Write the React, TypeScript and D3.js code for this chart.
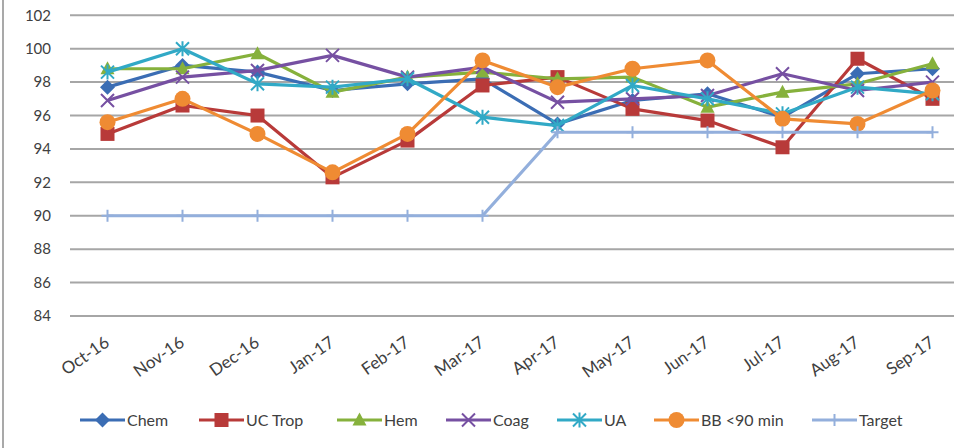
import React, { useEffect, useRef } from "react";
import * as d3 from "d3";

// Monthly compliance percentages by test type
const months = ["Oct-16", "Nov-16", "Dec-16", "Jan-17", "Feb-17", "Mar-17", "Apr-17", "May-17", "Jun-17", "Jul-17", "Aug-17", "Sep-17"];
const chem = [97.7, 99.0, 98.6, 97.5, 97.9, 98.2, 95.5, 96.9, 97.3, 95.9, 98.5, 98.8];
const ucTrop = [94.9, 96.6, 96.0, 92.3, 94.5, 97.8, 98.3, 96.4, 95.7, 94.1, 99.4, 97.0];
const hem = [98.8, 98.8, 99.7, 97.4, 98.3, 98.6, 98.2, 98.3, 96.5, 97.4, 97.9, 99.1];
const coag = [96.9, 98.3, 98.7, 99.6, 98.3, 98.9, 96.8, 97.0, 97.2, 98.5, 97.5, 98.0];
const ua = [98.6, 100.0, 97.9, 97.7, 98.2, 95.9, 95.4, 97.8, 97.0, 96.1, 97.7, 97.3];
const bb90 = [95.6, 97.0, 94.9, 92.6, 94.9, 99.3, 97.7, 98.8, 99.3, 95.8, 95.5, 97.5];
const target = [90, 90, 90, 90, 90, 90, 95, 95, 95, 95, 95, 95];
const yTicks = [84, 86, 88, 90, 92, 94, 96, 98, 100, 102];

type MarkerKind = "diamond" | "square" | "triangle" | "x" | "star" | "circle" | "plus";

const seriesList: { name: string; values: number[]; color: string; marker: MarkerKind }[] = [
  { name: "Chem", values: chem, color: "#3b6db4", marker: "diamond" },
  { name: "UC Trop", values: ucTrop, color: "#b83a39", marker: "square" },
  { name: "Hem", values: hem, color: "#86b13c", marker: "triangle" },
  { name: "Coag", values: coag, color: "#7650a2", marker: "x" },
  { name: "UA", values: ua, color: "#31a9c6", marker: "star" },
  { name: "BB <90 min", values: bb90, color: "#ef8b33", marker: "circle" },
  { name: "Target", values: target, color: "#93afdc", marker: "plus" },
];

// left edge of each legend entry's line sample
const legendStarts = [80, 199, 337, 446, 557, 654, 812];

const W = 954;
const H = 448;
const FONT = "Lato, 'Open Sans', sans-serif";

function drawMarker(g: d3.Selection<SVGGElement, unknown, null, undefined>, kind: MarkerKind, cx: number, cy: number, color: string) {
  switch (kind) {
    case "diamond":
      g.append("path").attr("d", `M${cx},${cy - 7.5}L${cx + 7.5},${cy}L${cx},${cy + 7.5}L${cx - 7.5},${cy}Z`).attr("fill", color);
      break;
    case "square":
      g.append("rect").attr("x", cx - 7).attr("y", cy - 7).attr("width", 14).attr("height", 14).attr("fill", color);
      break;
    case "triangle":
      g.append("path").attr("d", `M${cx},${cy - 7.5}L${cx + 7},${cy + 5.5}L${cx - 7},${cy + 5.5}Z`).attr("fill", color);
      break;
    case "circle":
      g.append("circle").attr("cx", cx).attr("cy", cy).attr("r", 8).attr("fill", color);
      break;
    case "x":
      g.append("path").attr("d", `M${cx - 6.5},${cy - 6.5}L${cx + 6.5},${cy + 6.5}M${cx - 6.5},${cy + 6.5}L${cx + 6.5},${cy - 6.5}`).attr("stroke", color).attr("stroke-width", 2).attr("fill", "none");
      break;
    case "star":
      g.append("path").attr("d", `M${cx - 6.5},${cy - 6.5}L${cx + 6.5},${cy + 6.5}M${cx - 6.5},${cy + 6.5}L${cx + 6.5},${cy - 6.5}M${cx},${cy - 7.5}L${cx},${cy + 7.5}`).attr("stroke", color).attr("stroke-width", 2).attr("fill", "none");
      break;
    case "plus":
      g.append("path").attr("d", `M${cx},${cy - 6}L${cx},${cy + 6}M${cx - 6},${cy}L${cx + 6},${cy}`).attr("stroke", color).attr("stroke-width", 2).attr("fill", "none");
      break;
  }
}

export default function App() {
  const ref = useRef<SVGSVGElement>(null);

  useEffect(() => {
    const svg = d3.select(ref.current!);
    svg.selectAll("*").remove();

    const x = d3.scaleBand<string>().domain(months).range([70, 970]);
    const xc = (m: string) => (x(m) as number) + x.bandwidth() / 2;
    const y = d3.scaleLinear().domain([84, 102]).range([316, 15.3]);

    svg.append("rect").attr("width", W).attr("height", H).attr("fill", "#ffffff");

    // chart frame edge on the left
    svg.append("line").attr("x1", 3).attr("x2", 3).attr("y1", 0).attr("y2", H).attr("stroke", "#8c8c8c").attr("stroke-width", 1.5);

    // horizontal gridlines
    svg.append("g").selectAll("line").data(yTicks).join("line")
      .attr("x1", 70).attr("x2", 970)
      .attr("y1", (d) => y(d)).attr("y2", (d) => y(d))
      .attr("stroke", "#a6a6a6").attr("stroke-width", 2);

    // y tick labels
    svg.append("g").selectAll("text").data(yTicks).join("text")
      .attr("x", 51).attr("y", (d) => y(d)).attr("dy", "0.35em")
      .attr("text-anchor", "end")
      .attr("font-family", FONT).attr("font-size", 15).attr("fill", "#404040")
      .text((d) => String(d));

    // x tick labels, rotated
    svg.append("g").selectAll("text").data(months).join("text")
      .attr("transform", (d) => `translate(${xc(d) + 3},${345}) rotate(-35)`)
      .attr("text-anchor", "end")
      .attr("font-family", FONT).attr("font-size", 17).attr("fill", "#404040")
      .text((d) => d);

    const line = d3.line<number>().x((_, i) => xc(months[i])).y((d) => y(d));

    seriesList.forEach((s) => {
      const g = svg.append("g");
      g.append("path").attr("d", line(s.values)).attr("fill", "none").attr("stroke", s.color).attr("stroke-width", 3.2).attr("stroke-linejoin", "round");
      s.values.forEach((v, i) => drawMarker(g, s.marker, xc(months[i]), y(v), s.color));
    });

    // legend
    const lg = svg.append("g");
    const ly = 420;
    seriesList.forEach((s, i) => {
      const lx = legendStarts[i];
      const g = lg.append("g");
      g.append("line").attr("x1", lx).attr("x2", lx + 45).attr("y1", ly).attr("y2", ly).attr("stroke", s.color).attr("stroke-width", 3.2);
      drawMarker(g, s.marker, lx + 22.5, ly, s.color);
      g.append("text").attr("x", lx + 47).attr("y", ly).attr("dy", "0.35em")
        .attr("font-family", FONT).attr("font-size", 16).attr("fill", "#404040").text(s.name);
    });
  }, []);

  return (
    <svg ref={ref} width={W} height={H} style={{ position: "absolute", left: 0, top: 0, display: "block" }} />
  );
}
